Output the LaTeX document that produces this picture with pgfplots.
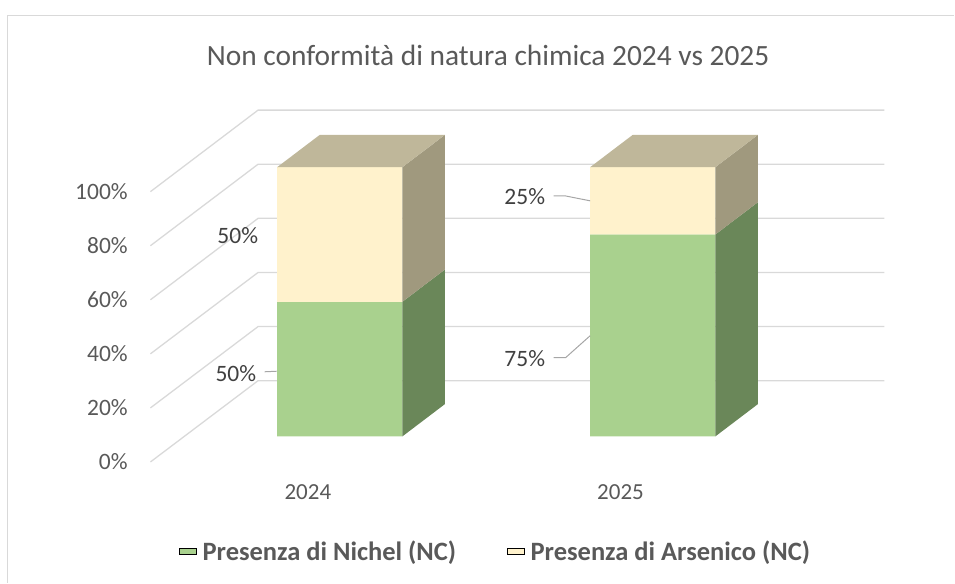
\documentclass[border=0pt]{standalone}
\usepackage{pgfplots}
\pgfplotsset{compat=1.18}
\usepackage{fontspec}
\setmainfont{Carlito}
\definecolor{gridc}{HTML}{D9D9D9}
\definecolor{greenF}{HTML}{A9D18E}
\definecolor{greenS}{HTML}{6A8759}
\definecolor{yelF}{HTML}{FFF2CC}
\definecolor{yelS}{HTML}{A0997E}
\definecolor{yelT}{HTML}{BFB79A}
\definecolor{txt}{HTML}{595959}
\definecolor{lbl}{HTML}{404040}
\definecolor{lead}{HTML}{A6A6A6}
\begin{document}
\begin{tikzpicture}
\begin{axis}[
  width=955pt, height=583pt, scale only axis,
  xmin=-1.0856, xmax=1.9636, ymin=-54.31, ymax=162.1,
  hide axis, clip=false,
  legend style={at={(axis cs:-0.514,-42.6)}, anchor=west, draw=none, fill=none,
    font=\fontsize{26.5}{30}\selectfont\bfseries, text=txt,
    legend columns=2, inner sep=0pt, nodes={inner sep=0pt},
    /tikz/every odd column/.append style={column sep=6pt},
    /tikz/every even column/.append style={column sep=51pt}},
  legend cell align=left,
  legend image code/.code={\fill[#1] (0pt,-7.5pt) rectangle (15pt,7.5pt);},
]
% keep full canvas in bounding box
\path (rel axis cs:0,0) rectangle (rel axis cs:1,1);
% back wall gridlines
\addplot[gridc, line width=1.3pt, forget plot] coordinates {(-0.605,-9.5) (-0.261,20.7) (1.740,20.7)};
\addplot[gridc, line width=1.3pt, forget plot] coordinates {(-0.605,10.58) (-0.261,40.8) (1.740,40.8)};
\addplot[gridc, line width=1.3pt, forget plot] coordinates {(-0.605,30.66) (-0.261,60.9) (1.740,60.9)};
\addplot[gridc, line width=1.3pt, forget plot] coordinates {(-0.605,50.74) (-0.261,81.0) (1.740,81.0)};
\addplot[gridc, line width=1.3pt, forget plot] coordinates {(-0.605,70.82) (-0.261,101.1) (1.740,101.1)};
\addplot[gridc, line width=1.3pt, forget plot] coordinates {(-0.605,90.9) (-0.261,121.2) (1.740,121.2)};

% 2024: Nichel 0-50, Arsenico 50-100
\addplot[fill=greenF, draw=none, area legend] coordinates {(-0.2,0) (0.2,0) (0.2,50) (-0.2,50) (-0.2,0)};
\addlegendentry{Presenza di Nichel (NC)}
\addplot[fill=greenS, draw=none, forget plot] coordinates {(0.2,0) (0.336,12) (0.336,62) (0.2,50) (0.2,0)};
\addplot[fill=yelF, draw=none, area legend] coordinates {(-0.2,50) (0.2,50) (0.2,100) (-0.2,100) (-0.2,50)};
\addlegendentry{Presenza di Arsenico (NC)}
\addplot[fill=yelS, draw=none, forget plot] coordinates {(0.2,50) (0.336,62) (0.336,112) (0.2,100) (0.2,50)};
\addplot[fill=yelT, draw=none, forget plot] coordinates {(-0.2,100) (0.2,100) (0.336,112) (-0.064,112) (-0.2,100)};

% 2025: Nichel 0-75, Arsenico 75-100
\addplot[fill=greenF, draw=none, forget plot] coordinates {(0.8,0) (1.2,0) (1.2,75) (0.8,75) (0.8,0)};
\addplot[fill=greenS, draw=none, forget plot] coordinates {(1.2,0) (1.336,12) (1.336,87) (1.2,75) (1.2,0)};
\addplot[fill=yelF, draw=none, forget plot] coordinates {(0.8,75) (1.2,75) (1.2,100) (0.8,100) (0.8,75)};
\addplot[fill=yelS, draw=none, forget plot] coordinates {(1.2,75) (1.336,87) (1.336,112) (1.2,100) (1.2,75)};
\addplot[fill=yelT, draw=none, forget plot] coordinates {(0.8,100) (1.2,100) (1.336,112) (0.936,112) (0.8,100)};

% leader lines
\addplot[lead, line width=1pt, forget plot] coordinates {(-0.24,24.0) (-0.202,24.2)};
\addplot[lead, line width=1pt, forget plot] coordinates {(0.683,89.3) (0.722,89.3) (0.8,87.5)};
\addplot[lead, line width=1pt, forget plot] coordinates {(0.683,29.3) (0.722,29.3) (0.8,37.4)};

% chart border
\draw[gridc, line width=1.3pt] (axis cs:-1.0616,-54.31) -- (axis cs:-1.0616,156.3) -- (axis cs:1.9636,156.3);

% title
\node[font=\fontsize{29.4}{34}\selectfont, text=txt] at (axis cs:0.474,141.7) {Non conformità di natura chimica 2024 vs 2025};

% tick labels
\begin{scope}[every node/.style={anchor=east, font=\fontsize{23.5}{28}\selectfont, text=txt, inner sep=0pt}]
\node at (axis cs:-0.677,-9.5) {0\%};
\node at (axis cs:-0.677,10.58) {20\%};
\node at (axis cs:-0.677,30.66) {40\%};
\node at (axis cs:-0.677,50.74) {60\%};
\node at (axis cs:-0.677,70.82) {80\%};
\node at (axis cs:-0.677,90.9) {100\%};
\end{scope}

% category labels
\node[font=\fontsize{23}{28}\selectfont, text=txt] at (axis cs:-0.102,-20.8) {2024};
\node[font=\fontsize{23}{28}\selectfont, text=txt] at (axis cs:0.897,-20.8) {2025};

% data labels
\begin{scope}[every node/.style={font=\fontsize{23.5}{28}\selectfont, text=lbl, inner sep=0pt}]
\node at (axis cs:-0.332,23.3) {50\%};
\node at (axis cs:-0.326,74.6) {50\%};
\node at (axis cs:0.591,89.1) {25\%};
\node at (axis cs:0.591,28.8) {75\%};
\end{scope}
\end{axis}
\end{tikzpicture}
\end{document}
